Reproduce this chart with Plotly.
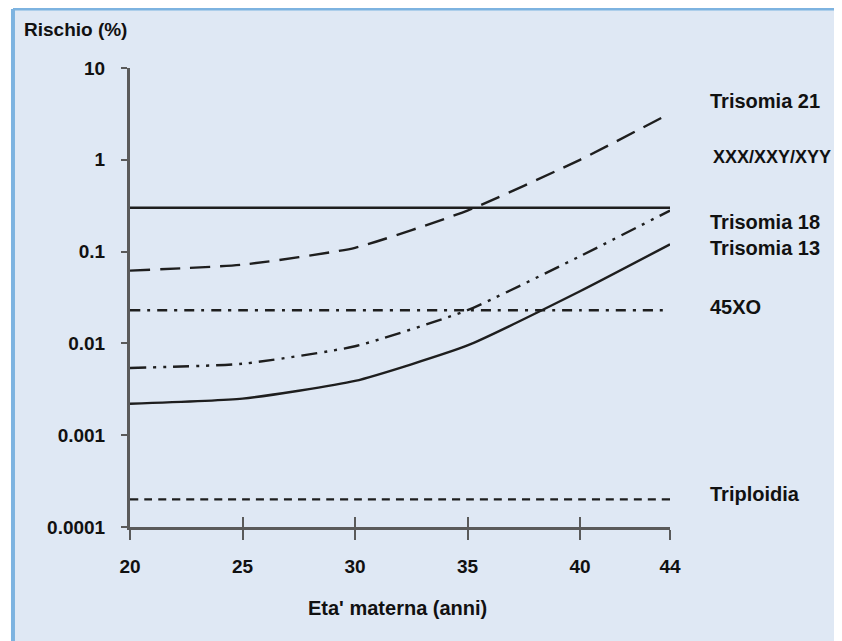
import plotly.graph_objects as go

# ---- data ----
ages = [20, 25, 30, 35, 40, 44]
trisomia21 = [0.062, 0.072, 0.11, 0.28, 1.0, 3.2]
xxx_xxy_xyy = [0.3, 0.3, 0.3, 0.3, 0.3, 0.3]
trisomia18 = [0.0054, 0.006, 0.0093, 0.023, 0.089, 0.28]
trisomia13 = [0.0022, 0.0025, 0.0039, 0.0095, 0.037, 0.12]
xo45 = [0.023, 0.023, 0.023, 0.023, 0.023, 0.023]
triploidia = [0.0002, 0.0002, 0.0002, 0.0002, 0.0002, 0.0002]

y_tickvals = [0.0001, 0.001, 0.01, 0.1, 1, 10]
y_ticktext = ["0.0001", "0.001", "0.01", "0.1", "1", "10"]
x_tickvals = [20, 25, 30, 35, 40, 44]

series_labels = ["Trisomia 21", "XXX/XXY/XYY", "Trisomia 18", "Trisomia 13", "45XO", "Triploidia"]

FONT = "Liberation Sans, Arial, sans-serif"
LINE_C = "#1e1e1e"
AX_C = "#5a5a5a"
BG = "#dfe8f4"
BORDER = "#7db3e0"

fig = go.Figure()

styles = [
    (trisomia21, "20px,10px"),
    (xxx_xxy_xyy, "solid"),
    (trisomia18, "16px,7px,3px,7px,3px,7px"),
    (trisomia13, "solid"),
    (xo45, "10px,7px,3px,7px"),
    (triploidia, "8px,6px"),
]
for (vals, dash), name in zip(styles, series_labels):
    fig.add_trace(go.Scatter(
        x=ages, y=vals, mode="lines", name=name,
        line=dict(color=LINE_C, width=2.4, dash=dash, shape="spline", smoothing=0.5),
        showlegend=False, hoverinfo="skip",
    ))

# invisible trace on overlay x axis to draw crossing ticks
fig.add_trace(go.Scatter(x=ages, y=trisomia13, xaxis="x2", mode="lines",
                         line=dict(width=0), showlegend=False, hoverinfo="skip", opacity=0))

label_pos = {
    "Trisomia 21": (1.070, 0.928, 20),
    "XXX/XXY/XYY": (1.076, 0.806, 18),
    "Trisomia 18": (1.070, 0.664, 20),
    "Trisomia 13": (1.070, 0.608, 20),
    "45XO": (1.070, 0.479, 20),
    "Triploidia": (1.070, 0.072, 20),
}
annotations = []
for name in series_labels:
    px, py, fs = label_pos[name]
    annotations.append(dict(
        text=name, xref="paper", yref="paper", x=px, y=py,
        xanchor="left", yanchor="middle", showarrow=False,
        font=dict(family=FONT, size=fs, color="#111", weight="bold"),
    ))
annotations.append(dict(
    text="Rischio (%)", xref="paper", yref="paper", x=-0.200, y=1.083,
    xanchor="left", yanchor="middle", showarrow=False,
    font=dict(family=FONT, size=19, color="#111", weight="bold"),
))
annotations.append(dict(
    text="Eta' materna (anni)", xref="paper", yref="paper", x=0.496, y=-0.176,
    xanchor="center", yanchor="middle", showarrow=False,
    font=dict(family=FONT, size=20, color="#111", weight="bold"),
))

tickfont = dict(family=FONT, size=19, color="#111", weight="bold")

x0b, x1b, y0b, y1b = -0.2167, 1.45, -0.35, 1.1285
fig.update_layout(
    width=842, height=641,
    margin=dict(l=122, r=180, t=60, b=122, pad=0),
    paper_bgcolor="white",
    plot_bgcolor="rgba(0,0,0,0)",
    annotations=annotations,
    shapes=[
        dict(type="rect", xref="paper", yref="paper",
             x0=x0b, x1=x1b, y0=y0b, y1=y1b,
             fillcolor=BG, line=dict(width=0), layer="below"),
        dict(type="line", xref="paper", yref="paper",
             x0=x0b, x1=x1b, y0=y1b, y1=y1b,
             line=dict(color=BORDER, width=3), layer="below"),
        dict(type="line", xref="paper", yref="paper",
             x0=x0b, x1=x0b, y0=y0b, y1=y1b,
             line=dict(color=BORDER, width=4), layer="below"),
    ],
    xaxis=dict(
        range=[20, 44], tickvals=x_tickvals, ticktext=[str(v) for v in x_tickvals],
        showgrid=False, zeroline=False, showline=True, linecolor=AX_C, linewidth=3,
        ticks="outside", ticklen=10, tickwidth=2, tickcolor=AX_C,
        tickfont=tickfont, ticklabelstandoff=10,
    ),
    xaxis2=dict(
        range=[20, 44], tickvals=x_tickvals, overlaying="x", side="bottom",
        showgrid=False, zeroline=False, showline=False, showticklabels=False,
        ticks="inside", ticklen=10, tickwidth=2, tickcolor=AX_C,
    ),
    yaxis=dict(
        type="log", range=[-4, 1], tickvals=y_tickvals, ticktext=y_ticktext,
        showgrid=False, zeroline=False, showline=True, linecolor=AX_C, linewidth=3,
        ticks="outside", ticklen=6, tickwidth=2, tickcolor=AX_C,
        tickfont=tickfont, ticklabelstandoff=12,
    ),
)

fig.write_html("out.html")
